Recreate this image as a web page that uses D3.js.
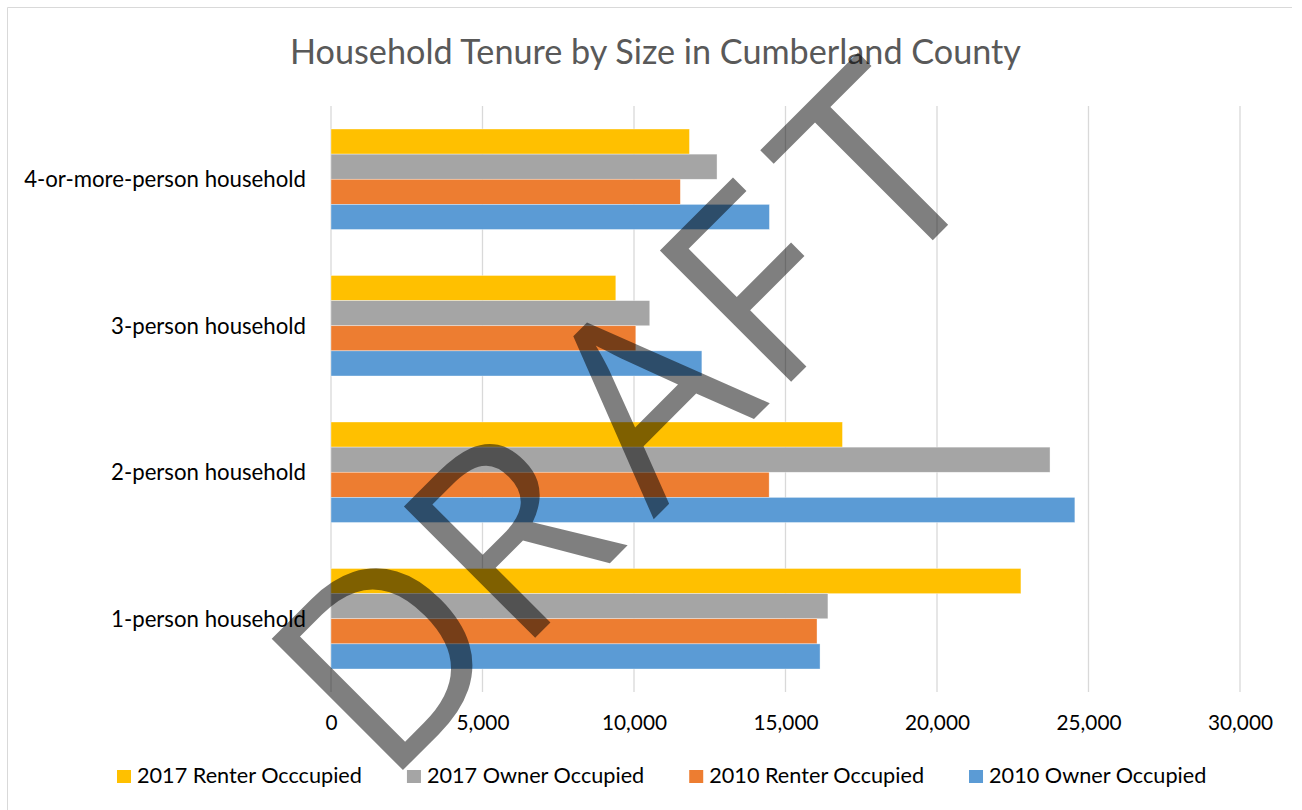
<!DOCTYPE html>
<html>
<head>
<meta charset="utf-8">
<script src="https://cdn.jsdelivr.net/npm/d3@7"></script>
<style>
  html, body { margin: 0; padding: 0; background: #fff; }
  svg { display: block; }
</style>
</head>
<body>
<svg id="chart" width="1302" height="810"></svg>
<script>
// ---- data ----
const categories = ["1-person household", "2-person household", "3-person household", "4-or-more-person household"];
const seriesNames = ["2017 Renter Occcupied", "2017 Owner Occupied", "2010 Renter Occupied", "2010 Owner Occupied"];
const renter2017 = [22770, 16880, 9400, 11830];
const owner2017  = [16400, 23730, 10520, 12740];
const renter2010 = [16040, 14460, 10060, 11530];
const owner2010  = [16140, 24550, 12240, 14470];
const xTickValues = [0, 5000, 10000, 15000, 20000, 25000, 30000];
const seriesColors = ["#FFC000", "#A5A5A5", "#ED7D31", "#5B9BD5"];
const titleText = "Household Tenure by Size in Cumberland County";
const watermarkLetters = ["D", "R", "A", "F", "T"];

const seriesValues = [renter2017, owner2017, renter2010, owner2010];
const FONT = "Lato, 'Open Sans', sans-serif";

const svg = d3.select("#chart");

// helper: fit font size so text reaches a target width
function fitFont(sel, targetWidth) {
  const w = sel.node().getComputedTextLength();
  const fs = parseFloat(sel.attr("font-size"));
  return fs * targetWidth / w;
}

// chart frame
svg.append("line").attr("x1", 7.5).attr("x2", 1292).attr("y1", 7.5).attr("y2", 7.5)
  .attr("stroke", "#d9d9d9").attr("stroke-width", 1);
svg.append("line").attr("x1", 7.5).attr("x2", 7.5).attr("y1", 7.5).attr("y2", 810)
  .attr("stroke", "#d9d9d9").attr("stroke-width", 1);

// scales
const plotTop = 106, plotBottom = 692;
const x = d3.scaleLinear().domain([0, 30000]).range([331, 1240]);
const y = d3.scaleBand().domain(categories.slice().reverse())
  .range([plotTop, plotBottom]).paddingInner(0.314).paddingOuter(0.157);
const ySub = d3.scaleBand().domain(seriesNames).range([0, y.bandwidth()]);

// gridlines
svg.append("g").selectAll("line").data(xTickValues).join("line")
  .attr("x1", d => x(d)).attr("x2", d => x(d))
  .attr("y1", plotTop).attr("y2", plotBottom)
  .attr("stroke", "#d9d9d9").attr("stroke-width", 1.3);

// bars
const groups = svg.append("g").selectAll("g").data(categories).join("g")
  .attr("transform", d => `translate(0,${y(d)})`);
groups.selectAll("rect")
  .data((c, ci) => seriesNames.map((s, si) => ({ s, si, v: seriesValues[si][ci] })))
  .join("rect")
  .attr("x", x(0))
  .attr("y", d => ySub(d.s))
  .attr("width", d => x(d.v) - x(0))
  .attr("height", ySub.bandwidth())
  .attr("fill", d => seriesColors[d.si])
  .attr("stroke", "#ffffff").attr("stroke-width", 0.6).attr("stroke-opacity", 0.6);

// x axis tick labels
const xAxis = svg.append("g").attr("transform", `translate(0,730)`)
  .call(d3.axisBottom(x).tickValues(xTickValues).tickFormat(d3.format(",")).tickSize(0).tickPadding(0));
xAxis.select(".domain").remove();
xAxis.selectAll("text").attr("dy", 0).attr("fill", "#000")
  .attr("font-family", FONT).attr("font-size", 20);
{
  const probe = xAxis.selectAll("text").filter(d => d === 30000);
  const fs = fitFont(probe, 65);
  xAxis.selectAll("text").attr("font-size", fs);
}

// category labels
const catLabels = svg.append("g").selectAll("text").data(categories).join("text")
  .attr("x", 306)
  .attr("y", d => y(d) + y.bandwidth() / 2 + 8)
  .attr("text-anchor", "end")
  .attr("fill", "#000")
  .attr("font-family", FONT).attr("font-size", 22)
  .text(d => d);
{
  const probe = catLabels.filter(d => d === "4-or-more-person household");
  const fs = fitFont(probe, 282);
  catLabels.attr("font-size", fs);
}

// title
const title = svg.append("text").attr("x", 655.5).attr("y", 63.5)
  .attr("text-anchor", "middle").attr("fill", "#595959")
  .attr("font-family", FONT).attr("font-size", 32).text(titleText);
title.attr("font-size", fitFont(title, 731));

// legend
const legend = svg.append("g");
const legendItems = legend.selectAll("g").data(seriesNames).join("g");
legendItems.append("rect").attr("width", 14).attr("height", 13).attr("y", 770)
  .attr("fill", (d, i) => seriesColors[i]);
const legendTexts = legendItems.append("text").attr("y", 783)
  .attr("fill", "#000").attr("font-family", FONT).attr("font-size", 20).text(d => d);
{
  const probe = legendTexts.filter(d => d === "2017 Renter Occcupied");
  const fs = fitFont(probe, 225);
  legendTexts.attr("font-size", fs);
  let cx = 117;
  legendItems.each(function () {
    const g = d3.select(this);
    g.select("rect").attr("x", cx);
    const t = g.select("text").attr("x", cx + 20);
    cx = cx + 20 + t.node().getComputedTextLength() + 45;
  });
}

// DRAFT watermark
const wmOffsets = [0, 187, 380, 549, 714];
const wm = svg.append("text")
  .attr("transform", "translate(385,788) rotate(-45)")
  .attr("font-family", "'Open Sans', sans-serif")
  .attr("font-size", 260)
  .attr("fill", "#000").attr("fill-opacity", 0.5);
wm.selectAll("tspan").data(watermarkLetters).join("tspan")
  .attr("x", (d, i) => wmOffsets[i]).attr("y", 0).text(d => d);
</script>
</body>
</html>
